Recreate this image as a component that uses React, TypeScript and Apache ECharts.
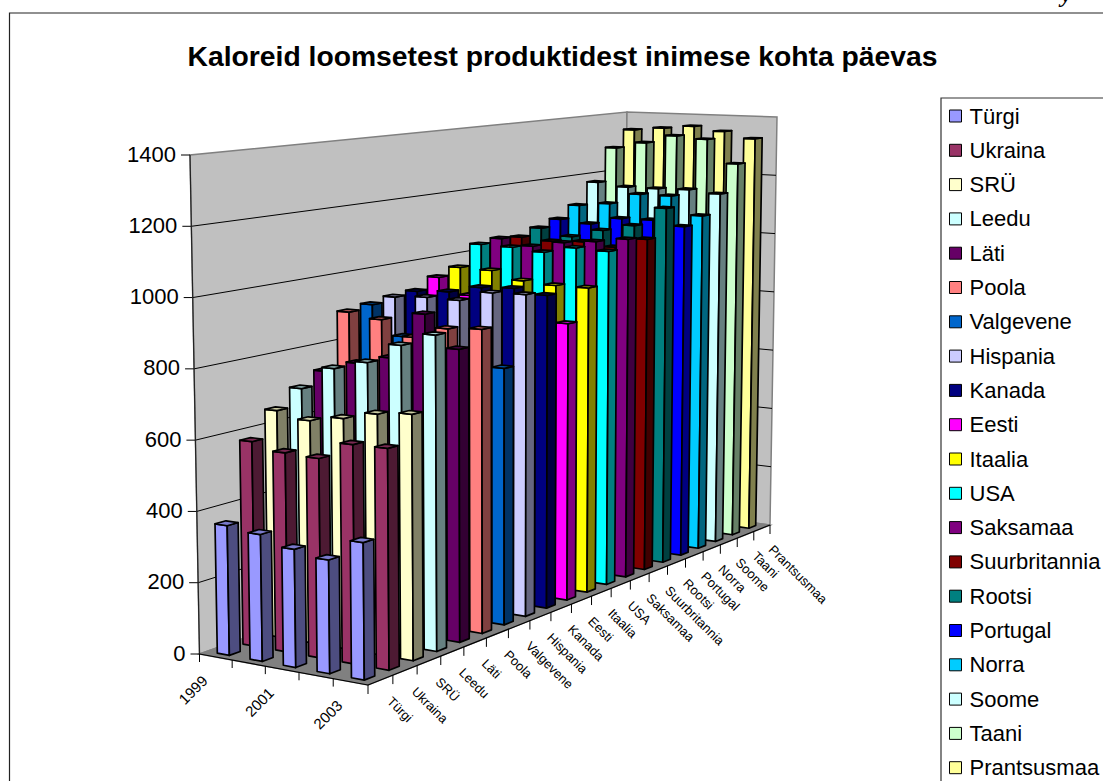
import React, { useEffect, useRef } from "react";
import * as echarts from "echarts";

const years = ["1999", "2000", "2001", "2002", "2003"];
const countries = ["Türgi", "Ukraina", "SRÜ", "Leedu", "Läti", "Poola", "Valgevene", "Hispania", "Kanada", "Eesti", "Itaalia", "USA", "Saksamaa", "Suurbritannia", "Rootsi", "Portugal", "Norra", "Soome", "Taani", "Prantsusmaa"];
const colors = ["#9999FF", "#993366", "#FFFFCC", "#CCFFFF", "#660066", "#FF8080", "#0066CC", "#CCCCFF", "#000080", "#FF00FF", "#FFFF00", "#00FFFF", "#800080", "#800000", "#008080", "#0000FF", "#00CCFF", "#CCFFFF", "#CCFFCC", "#FFFF99"];

const turgi = [363, 352, 325, 310, 371];
const ukraina = [580, 560, 556, 606, 607];
const sru = [651, 633, 650, 673, 683];
const leedu = [698, 766, 793, 851, 889];
const lati = [733, 766, 791, 926, 834];
const poola = [894, 880, 836, 870, 877];
const valgevene = [903, 815, 800, 770, 749];
const hispania = [913, 920, 919, 949, 952];
const kanada = [918, 924, 945, 950, 937];
const eesti = [949, 900, 880, 860, 838];
const itaalia = [968, 966, 941, 934, 934];
const usa = [1030, 1028, 1019, 1039, 1035];
const saksamaa = [1038, 1020, 1038, 1048, 1062];
const suurbritannia = [1032, 1025, 1030, 1019, 1051];
const rootsi = [1051, 1029, 1056, 1078, 1140];
const portugal = [1070, 1061, 1085, 1086, 1071];
const norra = [1107, 1119, 1156, 1156, 1096];
const soome = [1177, 1166, 1166, 1168, 1159];
const taani = [1288, 1310, 1338, 1330, 1251];
const prantsusmaa = [1344, 1354, 1364, 1350, 1329];
const values = [turgi, ukraina, sru, leedu, lati, poola, valgevene, hispania, kanada, eesti, itaalia, usa, saksamaa, suurbritannia, rootsi, portugal, norra, soome, taani, prantsusmaa];

const valueTicks = [0, 200, 400, 600, 800, 1000, 1200, 1400];
const yearLabels = ["1999", "", "2001", "", "2003"];

type P = [number, number];
function homography(q: P[]) {
  const [p0, p1, p2, p3] = q;
  const dx1 = p1[0] - p2[0], dx2 = p3[0] - p2[0], sx = p0[0] - p1[0] + p2[0] - p3[0];
  const dy1 = p1[1] - p2[1], dy2 = p3[1] - p2[1], sy = p0[1] - p1[1] + p2[1] - p3[1];
  const den = dx1 * dy2 - dx2 * dy1;
  const g = (sx * dy2 - dx2 * sy) / den, h = (dx1 * sy - sx * dy1) / den;
  const a = p1[0] - p0[0] + g * p1[0], b = p3[0] - p0[0] + h * p3[0], c = p0[0];
  const d = p1[1] - p0[1] + g * p1[1], e = p3[1] - p0[1] + h * p3[1], f = p0[1];
  return (u: number, v: number): P => {
    const w = g * u + h * v + 1;
    return [(a * u + b * v + c) / w, (d * u + e * v + f) / w];
  };
}
const floor = homography([[199.5, 654], [368, 685], [770, 525], [622, 505]]);
const ceil = homography([[190, 155], [364, 162.7], [777, 117], [627, 112]]);
const project = (u: number, v: number, z: number): P => {
  const a = floor(u, v), b = ceil(u, v);
  return [a[0] + (b[0] - a[0]) * z, a[1] + (b[1] - a[1]) * z];
};

const shade = (hex: string, k: number) => {
  const n = parseInt(hex.slice(1), 16);
  const c = [(n >> 16) & 255, (n >> 8) & 255, n & 255].map((x) => Math.round(x * k));
  return `rgb(${c[0]},${c[1]},${c[2]})`;
};

const GRID = 700;
const FONT = "Liberation Sans";
const HALF_U = 0.037;
const HALF_V = 0.0105;

function barRenderer(sIdx: number) {
  const vC = (sIdx + 0.5) / countries.length;
  const color = colors[sIdx];
  return (_params: any, api: any) => {
    const pt = api.coord([api.value(0), api.value(1)]);
    const uC = pt[0] / GRID;
    const z = (GRID - pt[1]) / GRID;
    const u0 = uC - HALF_U, u1 = uC + HALF_U, v0 = vC - HALF_V, v1 = vC + HALF_V;
    const stroke = { stroke: "#000", lineWidth: 1.7, lineJoin: "round" };
    return {
      type: "group",
      children: [
        { type: "polygon", shape: { points: [project(u0, v0, 0), project(u1, v0, 0), project(u1, v0, z), project(u0, v0, z)] }, style: { fill: color, ...stroke } },
        { type: "polygon", shape: { points: [project(u1, v0, 0), project(u1, v1, 0), project(u1, v1, z), project(u1, v0, z)] }, style: { fill: shade(color, 0.5), ...stroke } },
        { type: "polygon", shape: { points: [project(u0, v0, z), project(u1, v0, z), project(u1, v1, z), project(u0, v1, z)] }, style: { fill: shade(color, 0.8), ...stroke } },
      ],
    };
  };
}

function buildGraphics() {
  const els: any[] = [];
  const line = (a: P, b: P, stroke: string, lineWidth: number) =>
    els.push({ type: "line", z: 1, shape: { x1: a[0], y1: a[1], x2: b[0], y2: b[1] }, style: { stroke, lineWidth } });
  els.push({ type: "rect", z: 0, shape: { x: 9.5, y: 13, width: 1200, height: 900 }, style: { fill: "#fff", stroke: "#222", lineWidth: 1.2 } });
  els.push({ type: "text", z: 1, x: 1061, y: -18, style: { text: "y", font: "italic bold 24px 'Liberation Serif'", fill: "#000" } });
  const wall = (pts: P[], fill: string) =>
    els.push({ type: "polygon", z: 1, shape: { points: pts }, style: { fill, stroke: "#808080", lineWidth: 1.5 } });
  wall([project(0, 0, 0), project(0, 1, 0), project(0, 1, 1), project(0, 0, 1)], "#C0C0C0");
  wall([project(0, 1, 0), project(1, 1, 0), project(1, 1, 1), project(0, 1, 1)], "#C0C0C0");
  wall([project(0, 0, 0), project(1, 0, 0), project(1, 1, 0), project(0, 1, 0)], "#808080");
  valueTicks.forEach((t) => {
    const z = t / 1400;
    const a = project(0, 0, z), b = project(0, 1, z), c = project(1, 1, z);
    if (t > 0 && t < 1400) {
      line(a, b, "#000", 1);
      line(b, c, "#000", 1);
    }
    line([a[0] - 9, a[1]], a, "#000", 1);
    els.push({
      type: "text", z: 3, x: a[0] - 14, y: a[1] - 1,
      style: { text: String(t), font: `22px '${FONT}'`, fill: "#000", align: "right", verticalAlign: "middle" },
    });
  });
  line(project(0, 0, 0), project(0, 0, 1), "#222", 1.2);
  line(project(0, 0, 0), project(1, 0, 0), "#000", 1.2);
  line(project(1, 0, 0), project(1, 1, 0), "#000", 1.2);
  years.forEach((_, i) => {
    const p = project(i / years.length, 0, 0);
    line(p, [p[0], p[1] + 8], "#000", 1);
    if (yearLabels[i]) {
      const c = project((i + 0.5) / years.length, 0, 0);
      els.push({
        type: "text", z: 3, x: c[0] - 11, y: c[1] + 21, rotation: Math.PI / 4,
        style: { text: yearLabels[i], font: `15px '${FONT}'`, fill: "#000", align: "right", verticalAlign: "middle" },
      });
    }
  });
  const pEnd = project(1, 0, 0);
  line(pEnd, [pEnd[0], pEnd[1] + 9], "#000", 1);
  countries.forEach((name, i) => {
    const p = project(1, (i + 1) / countries.length, 0);
    line(p, [p[0], p[1] + 9], "#000", 1);
    const c = project(1, (i + 0.5) / countries.length, 0);
    els.push({
      type: "text", z: 3, x: c[0] + 9, y: c[1] + 19, rotation: -Math.PI / 4,
      style: { text: name, font: `13px '${FONT}'`, fill: "#000", align: "left", verticalAlign: "middle" },
    });
  });
  return els;
}

export default function App() {
  const ref = useRef<HTMLDivElement>(null);
  useEffect(() => {
    document.body.style.margin = "0";
    const chart = echarts.init(ref.current!, undefined, { renderer: "svg" });
    const order = countries.map((_, i) => countries.length - 1 - i);
    chart.setOption({
      animation: false,
      backgroundColor: "#fff",
      title: {
        text: "Kaloreid loomsetest produktidest inimese kohta päevas",
        left: 557.5, top: 37, textAlign: "center",
        textStyle: { fontFamily: FONT, fontSize: 28.3, fontWeight: "bold", color: "#000" },
      },
      grid: { left: 0, top: 0, width: GRID, height: GRID, show: false, outerBoundsMode: "none" },
      xAxis: { type: "category", data: years, show: false },
      yAxis: { type: "value", min: 0, max: 1400, show: false },
      legend: {
        orient: "vertical", left: 941, top: 98, width: 300, height: 760,
        data: countries, icon: "rect", itemWidth: 12, itemHeight: 12, itemGap: 10.3,
        padding: [6, 10, 8, 8], selectedMode: false, borderColor: "#333", borderWidth: 1.2,
        itemStyle: { borderColor: "#000", borderWidth: 1 },
        textStyle: { fontFamily: FONT, fontSize: 22, color: "#000", lineHeight: 24, padding: [0, 0, 0, 3] },
      },
      graphic: { elements: buildGraphics() },
      series: order.map((i) => ({
        type: "custom",
        name: countries[i],
        coordinateSystem: "cartesian2d",
        clip: false,
        itemStyle: { color: colors[i] },
        encode: { x: 0, y: 1 },
        data: years.map((y, j) => [y, values[i][j]]),
        renderItem: barRenderer(i),
      })),
    });
    return () => chart.dispose();
  }, []);
  return <div ref={ref} style={{ width: 1103, height: 781 }} />;
}
